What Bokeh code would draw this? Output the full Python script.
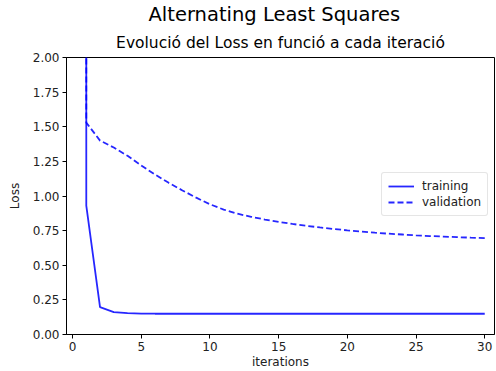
from bokeh.plotting import figure
from bokeh.models import Title, Range1d, Legend, LegendItem, FixedTicker
from bokeh.embed import file_html
from bokeh.resources import INLINE

# data
iterations = [1, 1, 2, 3, 4, 5, 6, 7, 8, 9, 10, 11, 12, 13, 14, 15, 16, 17, 18, 19, 20,
              21, 22, 23, 24, 25, 26, 27, 28, 29, 30]
training = [12.0, 0.93, 0.198, 0.162, 0.154, 0.151, 0.150, 0.150, 0.150, 0.150, 0.150,
            0.150, 0.150, 0.150, 0.150, 0.150, 0.150, 0.150, 0.150, 0.150, 0.150,
            0.150, 0.150, 0.150, 0.150, 0.150, 0.150, 0.150, 0.150, 0.150, 0.150]
validation = [12.0, 1.53, 1.40, 1.35, 1.29, 1.22, 1.155, 1.095, 1.04, 0.988, 0.94,
              0.902, 0.872, 0.85, 0.83, 0.813, 0.798, 0.785, 0.773, 0.762, 0.752,
              0.743, 0.735, 0.728, 0.722, 0.716, 0.711, 0.707, 0.703, 0.699, 0.696]
x_ticks = [0, 5, 10, 15, 20, 25, 30]
y_ticks = [0.0, 0.25, 0.5, 0.75, 1.0, 1.25, 1.5, 1.75, 2.0]
y_tick_labels = ["0.00", "0.25", "0.50", "0.75", "1.00", "1.25", "1.50", "1.75", "2.00"]

FONT = "DejaVu Sans"
TXT = "#222222"

p = figure(width=496, height=371, output_backend="svg", toolbar_location=None,
           x_range=Range1d(-0.44, 30.71), y_range=Range1d(0, 2),
           min_border_left=66, min_border_right=2, min_border_bottom=35, min_border_top=56)
p.background_fill_color = "white"
p.border_fill_color = "white"
p.outline_line_color = "black"
p.outline_line_width = 1
p.grid.visible = False

sub = Title(text="Evolució del Loss en funció a cada iteració", align="center",
            text_font=FONT, text_font_size="15.5px", text_font_style="normal",
            text_color="black", standoff=12)
main = Title(text="Alternating Least Squares", align="left", offset=82,
             text_font=FONT, text_font_size="19.5px", text_font_style="normal",
             text_color="black", standoff=0)
p.add_layout(sub, "above")
p.add_layout(main, "above")

r1 = p.line(iterations, training, line_color="blue", line_alpha=0.85, line_width=1.8)
r2 = p.line(iterations, validation, line_color="blue", line_alpha=0.85, line_width=1.8,
            line_dash="6 3")

for ax in (p.xaxis[0], p.yaxis[0]):
    ax.axis_line_color = "black"
    ax.major_tick_line_color = "black"
    ax.major_tick_out = 4
    ax.major_tick_in = 0
    ax.minor_tick_line_color = None
    ax.major_label_text_font = FONT
    ax.major_label_text_font_size = "12px"
    ax.major_label_text_color = TXT
    ax.axis_label_text_font = FONT
    ax.axis_label_text_font_size = "12px"
    ax.axis_label_text_font_style = "normal"
    ax.axis_label_text_color = TXT

p.xaxis.ticker = FixedTicker(ticks=x_ticks)
p.yaxis.ticker = FixedTicker(ticks=y_ticks)
p.yaxis.major_label_overrides = {t: l for t, l in zip(y_ticks, y_tick_labels)}
p.xaxis.axis_label = "iterations"
p.yaxis.axis_label = "Loss"
p.xaxis.major_label_standoff = 3
p.xaxis.axis_label_standoff = 1
p.yaxis.major_label_standoff = 3
p.yaxis.axis_label_standoff = 8

legend = Legend(items=[LegendItem(label="training", renderers=[r1]),
                       LegendItem(label="validation", renderers=[r2])],
                location=(315, 118))
legend.label_text_font = FONT
legend.label_text_font_size = "12px"
legend.label_text_color = TXT
legend.border_line_color = "#cccccc"
legend.border_radius = 3
legend.background_fill_alpha = 0.8
legend.glyph_width = 26
legend.glyph_height = 14
legend.spacing = 2
legend.padding = 6
legend.margin = 0
legend.label_standoff = 8
p.add_layout(legend, "center")

open("out.html", "w").write(file_html(p, INLINE))
